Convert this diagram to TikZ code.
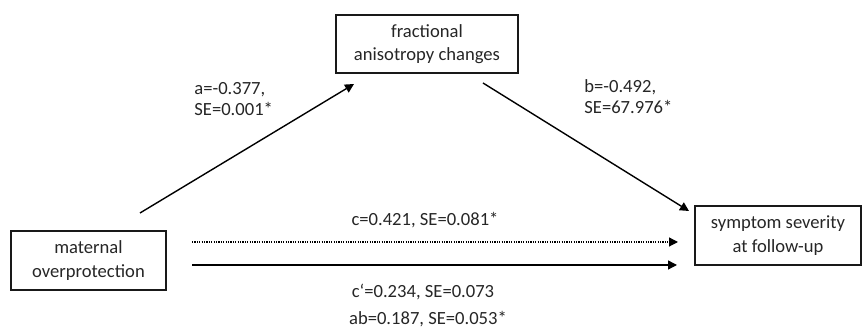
\documentclass[tikz,border=0pt]{standalone}
\usepackage{fontspec}
\setmainfont{Carlito}
\usetikzlibrary{arrows.meta}

\begin{document}
\begin{tikzpicture}[x=0.5pt, y=-0.5pt, >={Triangle[length=4.5pt,width=4.5pt]},
                    var/.style={draw=black!90, line width=0.7pt, align=center, inner sep=0pt,
                                text=black!85, font=\fontsize{9.3}{11.8}\selectfont},
                    coef/.style={inner sep=0pt, text=black!85, font=\fontsize{9.3}{10.5}\selectfont},
                    every edge/.style={draw, line width=0.7pt}]
\useasboundingbox (0,0) rectangle (863,330);

\node[var, minimum width=77.5pt, minimum height=29.5pt] (M) at (88.5,260.5) {maternal\\overprotection};
\node[var, minimum width=91pt, minimum height=29pt] (FA) at (427,44) {fractional\\anisotropy changes};
\node[var, minimum width=83pt, minimum height=29.5pt] (Y) at (778,235.5) {symptom severity\\at follow-up};

% free ends of the paths
\coordinate (a0) at (140,213);
\coordinate (a1) at (354,84);
\coordinate (b0) at (483,83);
\coordinate (b1) at (689,211);
\coordinate (c0) at (192,242);
\coordinate (c1) at (678,242);
\coordinate (d0) at (192,265);
\coordinate (d1) at (677,265);

\path[->]
(a0) edge (a1)
(b0) edge (b1)
(c0) edge [line width=0.6pt, dash pattern=on 0.6pt off 0.6pt] (c1)
(d0) edge (d1);

\node[coef, anchor=west, align=left] (la) at (194,99.5) {a=-0.377,\\SE=0.001*};
\node[coef, anchor=west, align=left] (lb) at (584,96.5) {b=-0.492,\\SE=67.976*};
\node[coef] (lc) at (425,220) {c=0.421, SE=0.081*};
\node[coef] (ld) at (423,292) {c‘=0.234, SE=0.073};
\node[coef] (lab) at (428,319) {ab=0.187, SE=0.053*};
\end{tikzpicture}
\end{document}
